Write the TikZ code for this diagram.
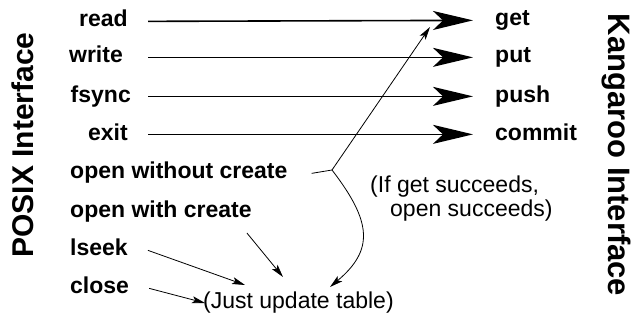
\documentclass[tikz,border=0pt]{standalone}
\usepackage{fontspec}
\setmainfont{Liberation Sans}
\usetikzlibrary{arrows.meta,positioning}
\begin{document}
\begin{tikzpicture}[x=1pt,y=1pt,
	call/.style={font=\fontsize{23}{26}\selectfont\bfseries,inner sep=0pt},
	side/.style={font=\fontsize{30}{34}\selectfont\bfseries,inner sep=0pt},
	note/.style={font=\fontsize{23}{24}\selectfont,inner sep=0pt,align=left},
	big/.style={line width=1.6pt,-{Stealth[length=40pt,width=19pt,inset=10pt]}},
	thin/.style={line width=0.8pt,-{Stealth[length=13pt,width=7pt,inset=3pt]}}]
	\useasboundingbox (0,0) rectangle (634,322);
	% side titles
	\node[side,rotate=90,anchor=base] (posix) at (33,177) {POSIX Interface};
	\node[side,rotate=-90,anchor=base,font=\fontsize{31}{34}\selectfont\bfseries] (kanga) at (608,167) {Kangaroo Interface};
	% posix calls
	\node[call,anchor=base east] (read) at (128,295) {read};
	\node[call,anchor=base east] (write) at (123,259) {write};
	\node[call,anchor=base east] (fsync) at (131,220) {fsync};
	\node[call,anchor=base east] (exit) at (128,182) {exit};
	\node[call,anchor=base west] (owc) at (70,144) {open without create};
	\node[call,anchor=base west] (oc) at (70,105) {open with create};
	\node[call,anchor=base west] (lseek) at (70,67) {lseek};
	\node[call,anchor=base west] (close) at (70,29) {close};
	% kangaroo calls
	\node[call,anchor=base west] (get) at (495,296) {get};
	\node[call,anchor=base west] (put) at (495,259) {put};
	\node[call,anchor=base west] (push) at (495,220) {push};
	\node[call,anchor=base west] (commit) at (495,182) {commit};
	% notes
	\node[note,anchor=north west] (ifget) at (370,146) {(If get succeeds,\\\hspace{20pt}open succeeds)};
	\node[note,anchor=base west] (table) at (203,14) {(Just update table)};
	\coordinate (ls) at (148,0);
	\coordinate (le) at (473,0);
	\foreach \a/\b in {read/get,write/put,fsync/push,exit/commit}
		\draw[big] ([yshift=3pt]\a.mid -| ls) -- ([yshift=3pt]\b.mid -| le);
	% open and its two outcomes
	\coordinate (split) at (332,152);
	\coordinate (gettip) at (430,295);
	\coordinate (tabtip) at (330,35);
	\draw[line width=0.8pt] ([xshift=24pt,yshift=2pt]owc.mid east) -- (split);
	\draw[thin] (split) -- (gettip);
	\draw[thin] (split) .. controls (372,100) and (374,72) .. (tabtip);
	% table only calls
	\coordinate (octip) at (283,45);
	\coordinate (lseektip) at (245,37);
	\coordinate (closetip) at (205,19);
	\draw[thin] ([xshift=-5pt,yshift=-11pt]oc.south east) -- (octip);
	\draw[thin] ([xshift=20pt,yshift=2pt]lseek.mid east) -- (lseektip);
	\draw[thin] ([xshift=20pt,yshift=2pt]close.mid east) -- (closetip);
\end{tikzpicture}
\end{document}
